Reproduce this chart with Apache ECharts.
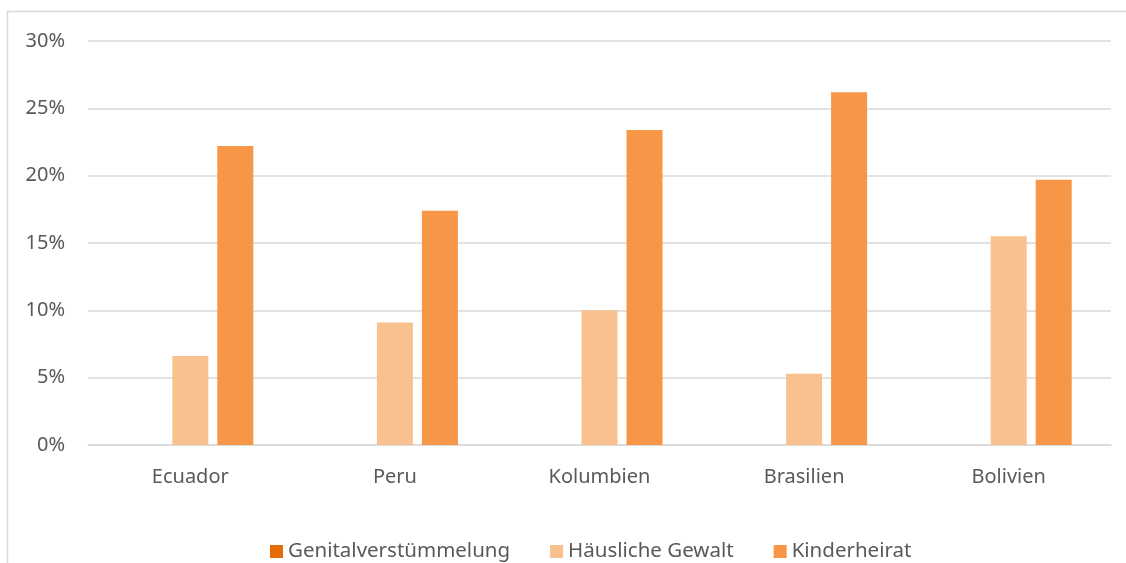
<!DOCTYPE html>
<html><head><meta charset="utf-8">
<script src="https://cdn.jsdelivr.net/npm/echarts@6/dist/echarts.min.js"></script>
<style>html,body{margin:0;padding:0;background:#fff}#c{width:1126px;height:563px}</style>
</head><body><div id="c"></div>
<script>
const categories = ['Ecuador','Peru','Kolumbien','Brasilien','Bolivien'];
const genital = [0,0,0,0,0];
const haeusliche = [6.6,9.1,10.0,5.3,15.5];
const kinderheirat = [22.2,17.4,23.4,26.2,19.7];
const yTicks = [0,5,10,15,20,25,30];

const chart = echarts.init(document.getElementById('c'));
const font = 'Noto Sans';
chart.setOption({
  animation:false,
  graphic:[{type:'rect',shape:{x:7.5,y:11.5,width:1130,height:560},style:{fill:'none',stroke:'#d9d9d9',lineWidth:1.5},silent:true}],
  grid:{left:88,right:15,top:41,bottom:118},
  legend:{left:265,top:536,itemWidth:13,itemHeight:13,itemGap:40,icon:'rect',
    textStyle:{fontFamily:font,fontSize:20.5,color:'#595959',padding:[0,0,0,0]},
    data:['Genitalverstümmelung','Häusliche Gewalt','Kinderheirat']},
  xAxis:{type:'category',data:categories,axisTick:{show:false},
    axisLine:{lineStyle:{color:'#d9d9d9',width:1.5}},
    axisLabel:{fontFamily:font,fontSize:20,color:'#595959',margin:22}},
  yAxis:{type:'value',min:yTicks[0],max:yTicks[yTicks.length-1],interval:5,
    axisLabel:{formatter:'{value}%',fontFamily:font,fontSize:20,color:'#595959',margin:23},
    splitLine:{lineStyle:{color:'#d9d9d9',width:1.5}},axisLine:{show:false},axisTick:{show:false}},
  series:[
    {name:'Genitalverstümmelung',type:'bar',data:genital,barWidth:36,barGap:'25%',itemStyle:{color:'#E46C0A'}},
    {name:'Häusliche Gewalt',type:'bar',data:haeusliche,barWidth:36,barGap:'25%',itemStyle:{color:'#F9C18F'}},
    {name:'Kinderheirat',type:'bar',data:kinderheirat,barWidth:36,barGap:'25%',itemStyle:{color:'#F79646'}}
  ]
});
</script></body></html>
